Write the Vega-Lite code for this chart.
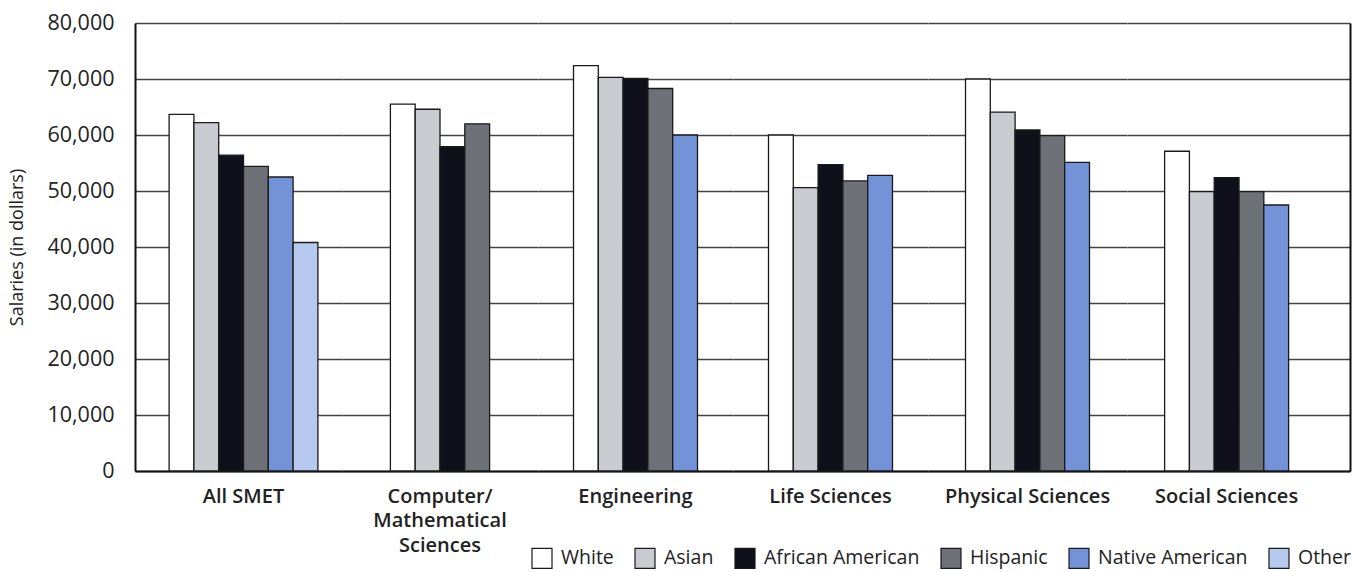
{
  "$schema": "https://vega.github.io/schema/vega-lite/v6.json",
  "autosize": {"type": "pad"},
  "padding": {"left": 8, "top": 12, "right": 2, "bottom": 4},
  "background": "white",
  "spacing": 0,
  "bounds": "flush",
  "data": {"values": [
    {"field": "All SMET", "race": "White", "salary": 63700},
    {"field": "All SMET", "race": "Asian", "salary": 62200},
    {"field": "All SMET", "race": "African American", "salary": 56400},
    {"field": "All SMET", "race": "Hispanic", "salary": 54400},
    {"field": "All SMET", "race": "Native American", "salary": 52500},
    {"field": "All SMET", "race": "Other", "salary": 40800},
    {"field": "Computer/Mathematical Sciences", "race": "White", "salary": 65500},
    {"field": "Computer/Mathematical Sciences", "race": "Asian", "salary": 64600},
    {"field": "Computer/Mathematical Sciences", "race": "African American", "salary": 57900},
    {"field": "Computer/Mathematical Sciences", "race": "Hispanic", "salary": 62000},
    {"field": "Engineering", "race": "White", "salary": 72400},
    {"field": "Engineering", "race": "Asian", "salary": 70300},
    {"field": "Engineering", "race": "African American", "salary": 70100},
    {"field": "Engineering", "race": "Hispanic", "salary": 68300},
    {"field": "Engineering", "race": "Native American", "salary": 60000},
    {"field": "Life Sciences", "race": "White", "salary": 60000},
    {"field": "Life Sciences", "race": "Asian", "salary": 50600},
    {"field": "Life Sciences", "race": "African American", "salary": 54700},
    {"field": "Life Sciences", "race": "Hispanic", "salary": 51800},
    {"field": "Life Sciences", "race": "Native American", "salary": 52800},
    {"field": "Physical Sciences", "race": "White", "salary": 70000},
    {"field": "Physical Sciences", "race": "Asian", "salary": 64100},
    {"field": "Physical Sciences", "race": "African American", "salary": 60900},
    {"field": "Physical Sciences", "race": "Hispanic", "salary": 59900},
    {"field": "Physical Sciences", "race": "Native American", "salary": 55100},
    {"field": "Social Sciences", "race": "White", "salary": 57100},
    {"field": "Social Sciences", "race": "Asian", "salary": 49900},
    {"field": "Social Sciences", "race": "African American", "salary": 52400},
    {"field": "Social Sciences", "race": "Hispanic", "salary": 49900},
    {"field": "Social Sciences", "race": "Native American", "salary": 47500}
  ]},
  "config": {
    "view": {"stroke": null},
    "font": "Open Sans",
    "axis": {"gridColor": "#444444", "gridWidth": 1.3, "gridOpacity": 1, "domainColor": "#111111", "domainWidth": 2, "ticks": false, "labelColor": "#222222", "titleColor": "#222222", "minExtent": 0, "titleFontSize": 18, "titleFontWeight": "normal"},
    "axisX": {"labelFontSize": 20, "labelFontWeight": 600, "labelAngle": 0, "labelPadding": 15, "labelLineHeight": 24.5, "labelLimit": 0, "labelOverlap": false, "labelBound": false, "labelFlush": false, "grid": false, "title": null, "labelExpr": "datum.label == 'Computer/Mathematical Sciences' ? ['Computer/', 'Mathematical', 'Sciences'] : datum.label"},
    "legend": {"labelFontSize": 19.5, "labelColor": "#222222", "labelFont": "Open Sans"}
  },
  "resolve": {"scale": {"x": "independent", "xOffset": "independent", "y": "independent", "color": "shared"}},
  "hconcat": [
    {
      "width": 207, "height": 448,
      "transform": [{"filter": "datum.field === 'All SMET'"}],
      "mark": {"type": "bar", "stroke": "#1a1a1a", "strokeWidth": 1.3},
      "encoding": {
        "x": {"field": "field", "type": "nominal", "scale": {"paddingInner": 0, "paddingOuter": 0.1956, "align": 0.586}},
        "xOffset": {"field": "race", "type": "nominal", "sort": null, "scale": {"paddingInner": 0, "paddingOuter": 0}},
        "y": {"field": "salary", "type": "quantitative", "scale": {"domain": [0, 80000]}, "title": "Salaries (in dollars)",
              "axis": {"values": [0, 10000, 20000, 30000, 40000, 50000, 60000, 70000, 80000], "format": ",d", "labelFontSize": 21.5, "labelFontWeight": 500, "labelPadding": 21, "titleFontSize": 18, "titleFontWeight": "normal", "titlePadding": 20, "grid": true, "domain": true}},
        "color": {"field": "race", "type": "nominal",
                  "scale": {"domain": ["White", "Asian", "African American", "Hispanic", "Native American", "Other"], "range": ["#ffffff", "#c9cbd1", "#0f101a", "#6f7178", "#7392d8", "#b6c9ef"]},
                  "legend": {"orient": "none", "direction": "horizontal", "legendX": 396, "legendY": 524, "title": null, "symbolType": "square", "symbolSize": 400, "symbolStrokeColor": "#222222", "symbolStrokeWidth": 1.2, "symbolOpacity": 1, "columnPadding": 18, "labelOffset": 8}}
      }
    },
    {
      "width": 196, "height": 448,
      "transform": [{"filter": "datum.field === 'Computer/Mathematical Sciences'"}],
      "mark": {"type": "bar", "stroke": "#1a1a1a", "strokeWidth": 1.3},
      "encoding": {
        "x": {"field": "field", "type": "nominal", "scale": {"paddingInner": 0, "paddingOuter": 0.4879, "align": 0.5}},
        "xOffset": {"field": "race", "type": "nominal", "sort": null, "scale": {"paddingInner": 0, "paddingOuter": 0}},
        "y": {"field": "salary", "type": "quantitative", "scale": {"domain": [0, 80000]}, "title": null,
              "axis": {"values": [0, 10000, 20000, 30000, 40000, 50000, 60000, 70000, 80000], "labels": false, "domain": false, "grid": true}},
        "color": {"field": "race", "type": "nominal"}
      }
    },
    {
      "width": 195, "height": 448,
      "transform": [{"filter": "datum.field === 'Engineering'"}],
      "mark": {"type": "bar", "stroke": "#1a1a1a", "strokeWidth": 1.3},
      "encoding": {
        "x": {"field": "field", "type": "nominal", "scale": {"paddingInner": 0, "paddingOuter": 0.2863, "align": 0.5}},
        "xOffset": {"field": "race", "type": "nominal", "sort": null, "scale": {"paddingInner": 0, "paddingOuter": 0}},
        "y": {"field": "salary", "type": "quantitative", "scale": {"domain": [0, 80000]}, "title": null,
              "axis": {"values": [0, 10000, 20000, 30000, 40000, 50000, 60000, 70000, 80000], "labels": false, "domain": false, "grid": true}},
        "color": {"field": "race", "type": "nominal"}
      }
    },
    {
      "width": 195, "height": 448,
      "transform": [{"filter": "datum.field === 'Life Sciences'"}],
      "mark": {"type": "bar", "stroke": "#1a1a1a", "strokeWidth": 1.3},
      "encoding": {
        "x": {"field": "field", "type": "nominal", "scale": {"paddingInner": 0, "paddingOuter": 0.2863, "align": 0.5}},
        "xOffset": {"field": "race", "type": "nominal", "sort": null, "scale": {"paddingInner": 0, "paddingOuter": 0}},
        "y": {"field": "salary", "type": "quantitative", "scale": {"domain": [0, 80000]}, "title": null,
              "axis": {"values": [0, 10000, 20000, 30000, 40000, 50000, 60000, 70000, 80000], "labels": false, "domain": false, "grid": true}},
        "color": {"field": "race", "type": "nominal"}
      }
    },
    {
      "width": 199, "height": 448,
      "transform": [{"filter": "datum.field === 'Physical Sciences'"}],
      "mark": {"type": "bar", "stroke": "#1a1a1a", "strokeWidth": 1.3},
      "encoding": {
        "x": {"field": "field", "type": "nominal", "scale": {"paddingInner": 0, "paddingOuter": 0.3024, "align": 0.5}},
        "xOffset": {"field": "race", "type": "nominal", "sort": null, "scale": {"paddingInner": 0, "paddingOuter": 0}},
        "y": {"field": "salary", "type": "quantitative", "scale": {"domain": [0, 80000]}, "title": null,
              "axis": {"values": [0, 10000, 20000, 30000, 40000, 50000, 60000, 70000, 80000], "labels": false, "domain": false, "grid": true}},
        "color": {"field": "race", "type": "nominal"}
      }
    },
    {
      "width": 223, "height": 448,
      "transform": [{"filter": "datum.field === 'Social Sciences'"}],
      "mark": {"type": "bar", "stroke": "#1a1a1a", "strokeWidth": 1.3},
      "encoding": {
        "x": {"field": "field", "type": "nominal", "scale": {"paddingInner": 0, "paddingOuter": 0.3992, "align": 0.38}},
        "xOffset": {"field": "race", "type": "nominal", "sort": null, "scale": {"paddingInner": 0, "paddingOuter": 0}},
        "y": {"field": "salary", "type": "quantitative", "scale": {"domain": [0, 80000]}, "title": null,
              "axis": {"orient": "right", "values": [0, 10000, 20000, 30000, 40000, 50000, 60000, 70000, 80000], "labels": false, "domain": true, "grid": true}},
        "color": {"field": "race", "type": "nominal"}
      }
    }
  ]
}
